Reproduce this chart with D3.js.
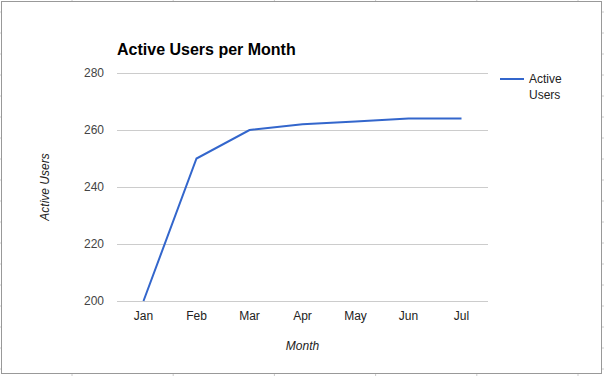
<!DOCTYPE html>
<html>
<head>
<meta charset="utf-8">
<script src="https://cdn.jsdelivr.net/npm/d3@7"></script>
<style>
  body { margin: 0; background: #fff; }
  svg { display: block; font-family: "Liberation Sans", Arial, sans-serif; }
</style>
</head>
<body>
<svg id="chart" width="604" height="376"></svg>
<script>
// data
const months = ["Jan", "Feb", "Mar", "Apr", "May", "Jun", "Jul"];
const activeUsers = [200, 250, 260, 262, 263, 264, 264];
const yTicks = [200, 220, 240, 260, 280];

const svg = d3.select("#chart");
const W = 604, H = 376;

// spreadsheet frame behind the chart
const frame = svg.append("g");
d3.range(12, H, 21).forEach(y => {
  frame.append("line").attr("x1", 0).attr("x2", 3).attr("y1", y).attr("y2", y).attr("stroke", "#ccc");
  frame.append("line").attr("x1", W - 3).attr("x2", W).attr("y1", y).attr("y2", y).attr("stroke", "#ccc");
});
d3.range(72, W, 101.2).forEach(x => {
  frame.append("line").attr("x1", x).attr("x2", x).attr("y1", 0).attr("y2", 3).attr("stroke", "#ccc");
  frame.append("line").attr("x1", x).attr("x2", x).attr("y1", H - 3).attr("y2", H).attr("stroke", "#ccc");
});
frame.append("rect")
  .attr("x", 1.5).attr("y", 1.5)
  .attr("width", 600).attr("height", 372)
  .attr("fill", "#fff")
  .attr("stroke", "#999")
  .attr("stroke-width", 1);

const margin = { left: 117, right: 116, top: 73, bottom: 75 };
const plotW = W - margin.left - margin.right;
const plotH = H - margin.top - margin.bottom;

const g = svg.append("g").attr("transform", `translate(${margin.left},${margin.top})`);

const x = d3.scaleBand().domain(months).range([0, plotW]);
const y = d3.scaleLinear().domain([200, 280]).range([plotH, 0]);

// gridlines
g.selectAll(".grid")
  .data(yTicks)
  .enter()
  .append("line")
  .attr("x1", 0).attr("x2", plotW)
  .attr("y1", d => Math.round(y(d)) + 0.5)
  .attr("y2", d => Math.round(y(d)) + 0.5)
  .attr("stroke", "#ccc");

// y axis labels
const yAxis = g.append("g")
  .call(d3.axisLeft(y).tickValues(yTicks).tickSize(0).tickPadding(13));
yAxis.select(".domain").remove();
yAxis.selectAll("text").attr("font-size", 12).attr("fill", "#444")
  .attr("font-family", "Liberation Sans, Arial, sans-serif");

// x axis labels
const xAxis = g.append("g")
  .attr("transform", `translate(0,${plotH})`)
  .call(d3.axisBottom(x).tickSize(0).tickPadding(10));
xAxis.select(".domain").remove();
xAxis.selectAll("text").attr("font-size", 12).attr("fill", "#222")
  .attr("font-family", "Liberation Sans, Arial, sans-serif");

// the line
const line = d3.line()
  .x((d, i) => x(months[i]) + x.bandwidth() / 2)
  .y(d => y(d));

g.append("path")
  .datum(activeUsers)
  .attr("d", line)
  .attr("fill", "none")
  .attr("stroke", "#3366cc")
  .attr("stroke-width", 2);

// title
svg.append("text")
  .attr("x", 117).attr("y", 55)
  .attr("font-size", 16).attr("font-weight", "bold")
  .attr("fill", "#000")
  .text("Active Users per Month");

// axis titles
svg.append("text")
  .attr("x", margin.left + plotW / 2).attr("y", 350)
  .attr("text-anchor", "middle")
  .attr("font-size", 12).attr("font-style", "italic").attr("fill", "#222")
  .text("Month");

svg.append("text")
  .attr("transform", `translate(49,${margin.top + plotH / 2}) rotate(-90)`)
  .attr("text-anchor", "middle")
  .attr("font-size", 12).attr("font-style", "italic").attr("fill", "#222")
  .text("Active Users");

// legend
const legend = svg.append("g").attr("transform", "translate(500,79)");
legend.append("line")
  .attr("x1", 0).attr("x2", 24).attr("y1", 0).attr("y2", 0)
  .attr("stroke", "#3366cc").attr("stroke-width", 2);
legend.append("text")
  .attr("y", 4)
  .attr("font-size", 12).attr("fill", "#222")
  .selectAll("tspan")
  .data(["Active", "Users"])
  .enter()
  .append("tspan")
  .attr("x", 29)
  .attr("dy", (d, i) => i === 0 ? 0 : 16)
  .text(d => d);
</script>
</body>
</html>
